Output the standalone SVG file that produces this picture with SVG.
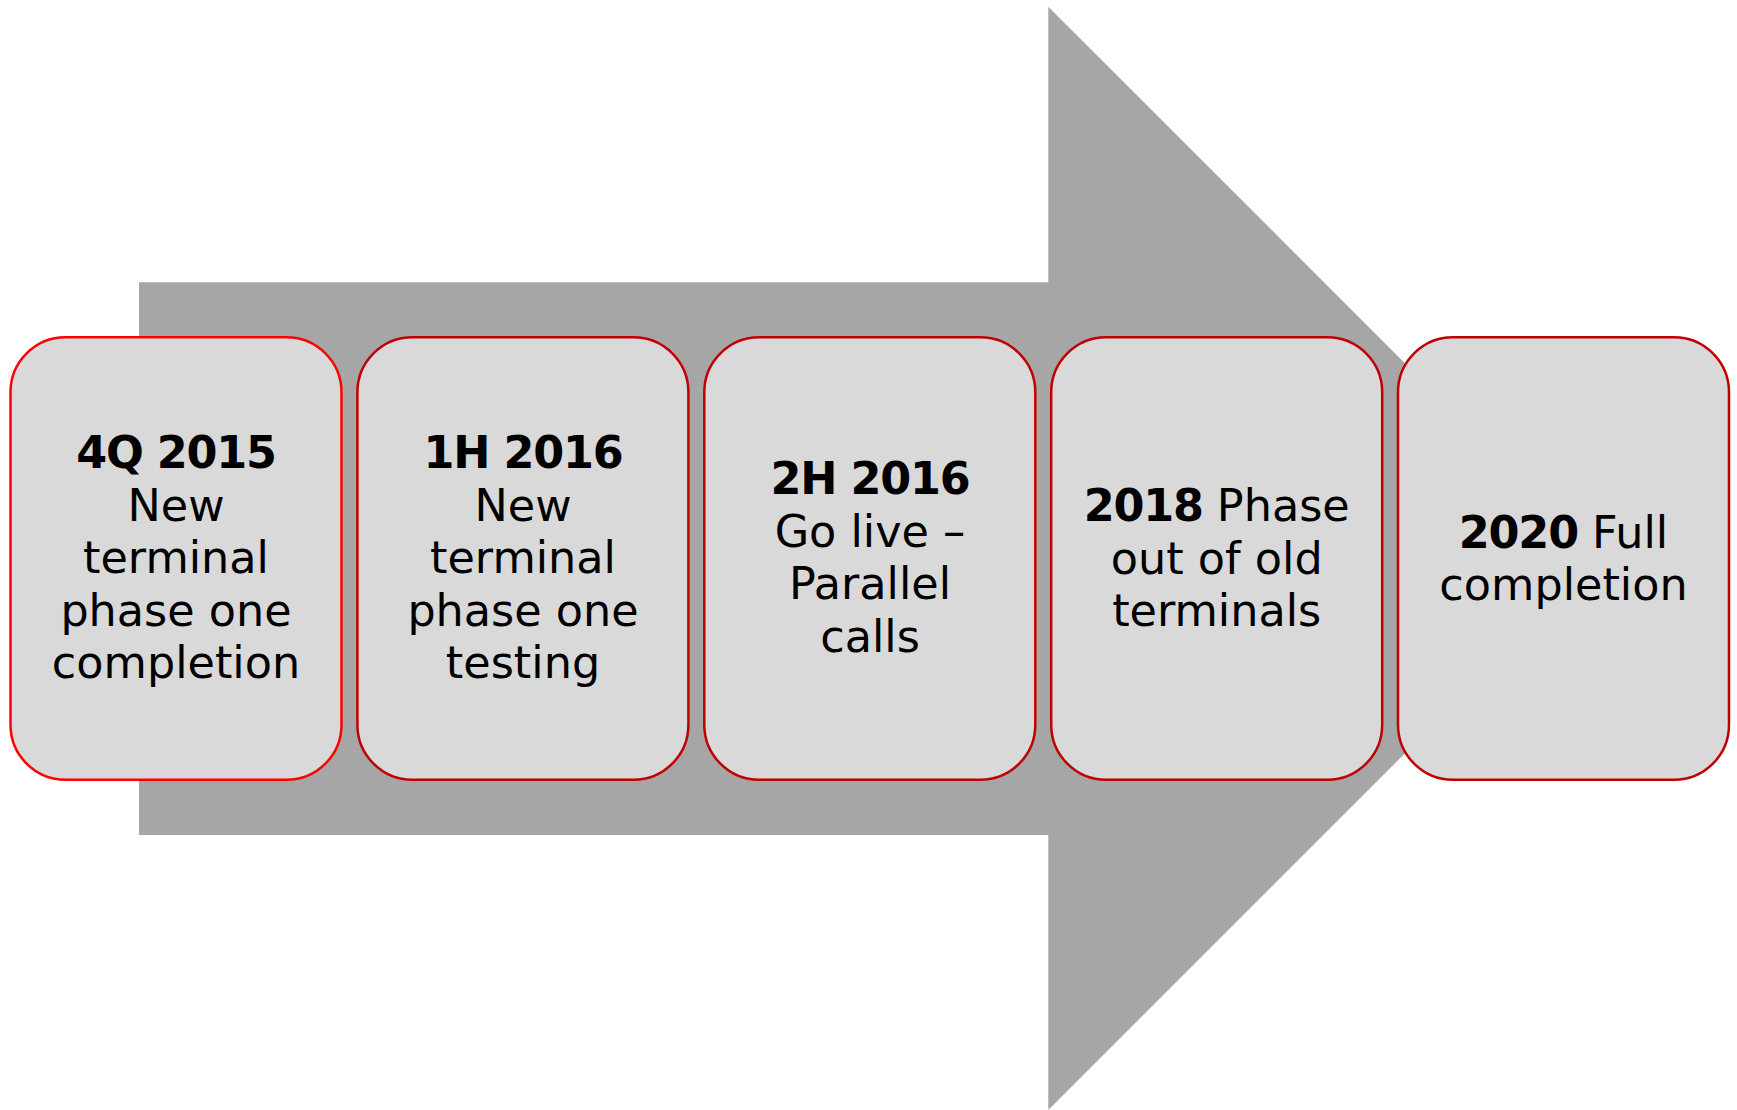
<svg xmlns="http://www.w3.org/2000/svg" width="1737" height="1110" viewBox="0 0 1737 1110">
<style>
.box{fill:#D9D9D9;stroke:#C00000;stroke-width:2.5}
.t{font-family:"DejaVu Sans","Open Sans",sans-serif;font-size:44.5px;fill:#000;text-anchor:middle}
.b{font-weight:bold;letter-spacing:-1.2px}
</style>
<rect width="1737" height="1110" fill="#fff"/>
<g id="arrow">
<polygon points="139,282.3 1048.3,282.3 1048.3,6.7 1600,558.3 1048.3,1110 1048.3,835 139,835" fill="#A6A6A6"/>
</g>
<g id="node1">
<rect class="box" x="10.5" y="337.3" width="331" height="442.4" rx="55" ry="55" style="stroke:#FF0000"/>
<text class="t" x="176" y="468.3"><tspan class="b">4Q 2015</tspan><tspan x="176" y="520.8">New</tspan><tspan x="176" y="573.3">terminal</tspan><tspan x="176" y="625.8">phase one</tspan><tspan x="176" y="678.3">completion</tspan></text>
</g>
<g id="node2">
<rect class="box" x="357.4" y="337.3" width="331" height="442.4" rx="55" ry="55"/>
<text class="t" x="523" y="468.3"><tspan class="b">1H 2016</tspan><tspan x="523" y="520.8">New</tspan><tspan x="523" y="573.3">terminal</tspan><tspan x="523" y="625.8">phase one</tspan><tspan x="523" y="678.3">testing</tspan></text>
</g>
<g id="node3">
<rect class="box" x="704.3" y="337.3" width="331" height="442.4" rx="55" ry="55"/>
<text class="t" x="870" y="494"><tspan class="b">2H 2016</tspan><tspan x="870" y="546.6">Go live –</tspan><tspan x="870" y="599.1">Parallel</tspan><tspan x="870" y="651.7">calls</tspan></text>
</g>
<g id="node4">
<rect class="box" x="1051.2" y="337.3" width="331" height="442.4" rx="55" ry="55"/>
<text class="t" x="1216.7" y="521"><tspan class="b">2018</tspan> Phase<tspan x="1216.7" y="573.5">out of old</tspan><tspan x="1216.7" y="626">terminals</tspan></text>
</g>
<g id="node5">
<rect class="box" x="1398" y="337.3" width="331" height="442.4" rx="55" ry="55"/>
<text class="t" x="1563.5" y="547.5"><tspan class="b">2020</tspan> Full<tspan x="1563.5" y="600">completion</tspan></text>
</g>
<g id="connectors"></g>
</svg>
